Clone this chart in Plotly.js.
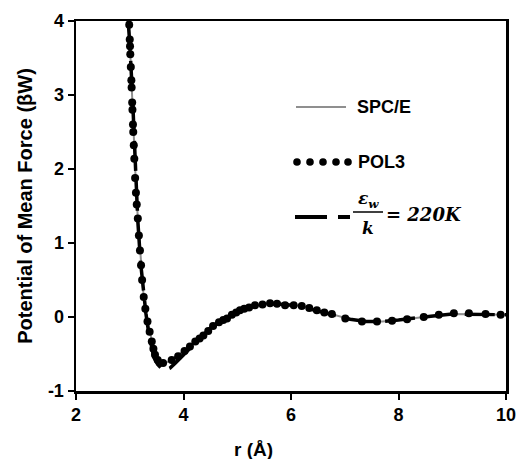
<!DOCTYPE html>
<html>
<head>
<meta charset="utf-8">
<script src="https://cdn.plot.ly/plotly-3.0.1.min.js"></script>
<style>html,body{margin:0;padding:0;background:#fff;}#chart{width:518px;height:459px;}</style>
</head>
<body>
<div id="chart"></div>
<script>
// SPC/E (thin gray line)
const spcR = [2.985,3.0,3.02,3.04,3.06,3.08,3.10,3.125,3.15,3.20,3.25,3.30,3.35,3.40,3.45,3.50,3.55,3.62,3.70,3.80,3.90,4.00,4.15,4.30,4.50,4.75,5.00,5.30,5.60,5.90,6.20,6.50,6.80,7.10,7.40,7.70,8.00,8.30,8.60,9.00,9.50,10.0];
const spcW = [4.0,3.72,3.36,3.0,2.6,2.22,1.87,1.6,1.35,0.8,0.35,0.06,-0.13,-0.31,-0.46,-0.57,-0.62,-0.63,-0.61,-0.57,-0.52,-0.46,-0.37,-0.28,-0.14,-0.03,0.07,0.15,0.18,0.17,0.15,0.09,0.03,-0.03,-0.06,-0.06,-0.04,-0.02,0.01,0.04,0.04,0.03];

// POL3 (black dots)
const polR = [2.99,3.0,3.005,3.01,3.02,3.03,3.035,3.045,3.05,3.06,3.065,3.075,3.085,3.10,3.115,3.13,3.15,3.17,3.19,3.21,3.23,3.26,3.29,3.33,3.37,3.41,3.44,3.47,3.52,3.62,3.78,3.90,4.02,4.12,4.22,4.30,4.37,4.46,4.55,4.66,4.74,4.81,4.90,4.98,5.05,5.13,5.22,5.33,5.47,5.61,5.74,5.89,6.05,6.20,6.34,6.48,6.62,6.76,7.01,7.32,7.60,7.88,8.16,8.47,8.75,9.03,9.31,9.62,9.90];
const polW = [3.95,3.75,3.66,3.55,3.38,3.20,3.10,2.90,2.80,2.60,2.50,2.32,2.14,1.88,1.68,1.52,1.33,1.10,0.90,0.70,0.50,0.27,0.11,-0.06,-0.20,-0.33,-0.43,-0.51,-0.58,-0.62,-0.58,-0.53,-0.46,-0.40,-0.33,-0.29,-0.25,-0.19,-0.12,-0.07,-0.04,-0.02,0.03,0.06,0.09,0.11,0.13,0.16,0.17,0.185,0.18,0.16,0.16,0.15,0.12,0.09,0.06,0.04,-0.02,-0.06,-0.06,-0.05,-0.03,0.0,0.03,0.05,0.05,0.04,0.03];

// -eps_w/k = 220K (black long dash)
const epsR = [2.97,3.0,3.05,3.10,3.15,3.20,3.25,3.30,3.35,3.40,3.45,3.52,3.60,3.66,3.75,3.85,4.00,4.12,4.30,4.50,4.75,5.00,5.30,5.60,5.90,6.20,6.50,6.80,7.10,7.40,7.70,8.00,8.30,8.60,9.00,9.50,10.0];
const epsW = [4.0,3.7,3.0,2.0,1.3,0.75,0.35,0.05,-0.2,-0.4,-0.55,-0.64,-0.70,-0.72,-0.69,-0.62,-0.51,-0.42,-0.29,-0.15,-0.03,0.07,0.15,0.18,0.17,0.14,0.08,0.03,-0.03,-0.06,-0.06,-0.04,-0.02,0.01,0.04,0.04,0.03];

const xTicks = [2, 4, 6, 8, 10];
const yTicks = [-1, 0, 1, 2, 3, 4];
const legendNames = ["SPC/E", "POL3"];
const epsLabelNum = "ε<sub>w</sub>";
const epsLabelDen = "k";
const epsLabelRest = "= 220K";

const traces = [
  {x: spcR, y: spcW, mode: "lines", name: "SPC/E", line: {color: "#8f8f8f", width: 2}},
  {x: polR, y: polW, mode: "markers", name: "POL3", marker: {color: "#000", size: 8}},
  {x: epsR, y: epsW, mode: "lines", name: "eps", line: {color: "#000", width: 3.5, dash: "30px,10px"}}
];

// helper: pixel -> paper
const L = 76, R = 506, T = 21, B = 391;
const px = v => (v - L) / (R - L);
const py = v => (B - v) / (B - T);

const shapes = [
  {type: "line", xref: "paper", yref: "paper", x0: px(296), x1: px(346), y0: py(107), y1: py(107), line: {color: "#8f8f8f", width: 2}},
  {type: "line", xref: "paper", yref: "paper", x0: px(295), x1: px(350), y0: py(217), y1: py(217), line: {color: "#000", width: 4, dash: "32px,11px"}},
  {type: "line", xref: "paper", yref: "paper", x0: px(353), x1: px(383), y0: py(212), y1: py(212), line: {color: "#000", width: 1.5}}
];
[297, 310, 323, 336, 348].forEach(c => {
  shapes.push({type: "circle", xref: "paper", yref: "paper", fillcolor: "#000", line: {color: "#000", width: 0},
    x0: px(c - 3.8), x1: px(c + 3.8), y0: py(162 + 3.8), y1: py(162 - 3.8)});
});

const sans = "Arial, Liberation Sans";
const serif = {family: "DejaVu Serif", size: 17, color: "#000"};
const annotations = [
  {xref: "paper", yref: "paper", x: px(355), y: py(107), xanchor: "left", yanchor: "middle", showarrow: false,
   text: "<b>" + legendNames[0] + "</b>", font: {family: sans, size: 18, color: "#000"}},
  {xref: "paper", yref: "paper", x: px(356), y: py(162), xanchor: "left", yanchor: "middle", showarrow: false,
   text: "<b>" + legendNames[1] + "</b>", font: {family: sans, size: 18, color: "#000"}},
  {xref: "paper", yref: "paper", x: px(368), y: py(199), xanchor: "center", yanchor: "middle", showarrow: false,
   text: "<b><i>" + epsLabelNum + "</i></b>", font: serif},
  {xref: "paper", yref: "paper", x: px(368), y: py(228), xanchor: "center", yanchor: "middle", showarrow: false,
   text: "<b><i>" + epsLabelDen + "</i></b>", font: serif},
  {xref: "paper", yref: "paper", x: px(384), y: py(214), xanchor: "left", yanchor: "middle", showarrow: false,
   text: "<b><i>" + epsLabelRest + "</i></b>", font: {family: "DejaVu Serif", size: 18, color: "#000"}},
  // x-axis title (placed left of centre as in the reference)
  {xref: "paper", yref: "paper", x: px(253), y: py(449), xanchor: "center", yanchor: "middle", showarrow: false,
   text: "<b>r (Å)</b>", font: {family: sans, size: 19, color: "#000"}}
];

const tickFont = {family: sans, size: 18, color: "#000"};
const layout = {
  width: 518, height: 459,
  margin: {l: L, r: 518 - R, t: T, b: 459 - B},
  paper_bgcolor: "#fff", plot_bgcolor: "#fff",
  showlegend: false,
  xaxis: {range: [2, 10], tickvals: xTicks, ticktext: xTicks.map(v => "<b>" + v + "</b>"),
    showgrid: false, zeroline: false, showline: true, mirror: true, linecolor: "#000", linewidth: 2.5,
    ticks: "outside", ticklen: 6, tickwidth: 2, tickcolor: "#000", tickfont: tickFont},
  yaxis: {range: [-1, 4], tickvals: yTicks, ticktext: yTicks.map(v => "<b>" + v + "</b>"),
    showgrid: false, zeroline: false, showline: true, mirror: true, linecolor: "#000", linewidth: 2.5,
    ticks: "outside", ticklen: 6, tickwidth: 2, tickcolor: "#000", tickfont: tickFont,
    title: {text: "<b>Potential of Mean Force (βW)</b>", font: {family: sans, size: 20, color: "#000"}, standoff: 10}},
  shapes: shapes,
  annotations: annotations
};

Plotly.newPlot("chart", traces, layout, {displayModeBar: false, staticPlot: true});
</script>
</body>
</html>
